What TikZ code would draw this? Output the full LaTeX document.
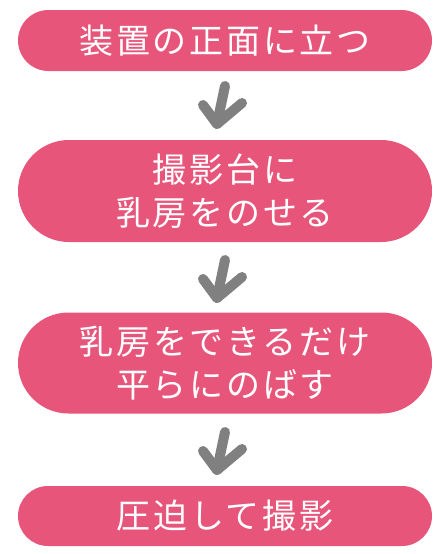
\documentclass[tikz,border=0pt]{standalone}
\usepackage{fontspec}
\newfontfamily\jp[LetterSpace=8]{Noto Sans CJK JP}
\usetikzlibrary{shapes.misc}
\definecolor{boxpink}{HTML}{E8557A}
\definecolor{arrowgray}{HTML}{808080}
\tikzset{
  stepbox/.style={rounded rectangle, fill=boxpink, text=white, minimum width=414pt,
    inner sep=0pt, align=center, font=\jp\fontsize{34}{43}\selectfont},
  handarrow/.style={draw=arrowgray, line width=10pt, line cap=round, line join=round}
}
\begin{document}
\begin{tikzpicture}[x=1pt,y=-1pt]
\useasboundingbox (0,0) rectangle (443,554);
\node[stepbox, minimum height=61pt] (s1) at (225,40.5) {装置の正面に立つ};
\node[stepbox, minimum height=102pt] (s2) at (225,191) {撮影台に\\乳房をのせる};
\node[stepbox, minimum height=101pt] (s3) at (225,363) {乳房をできるだけ\\平らにのばす};
\node[stepbox, minimum height=60pt] (s4) at (225,516) {圧迫して撮影};
\foreach \y/\n in {0/a1,174/a2,346/a3}{
  \coordinate (\n t) at (225,{86+\y});
  \coordinate (\n p) at (217,{124+\y});
  \coordinate (\n l) at (203,{105+\y});
  \coordinate (\n r) at (242,{103+\y});
  \draw[handarrow] (\n t) -- (\n p);
  \draw[handarrow] (\n l) -- (\n p) -- (\n r);
}
\end{tikzpicture}
\end{document}
